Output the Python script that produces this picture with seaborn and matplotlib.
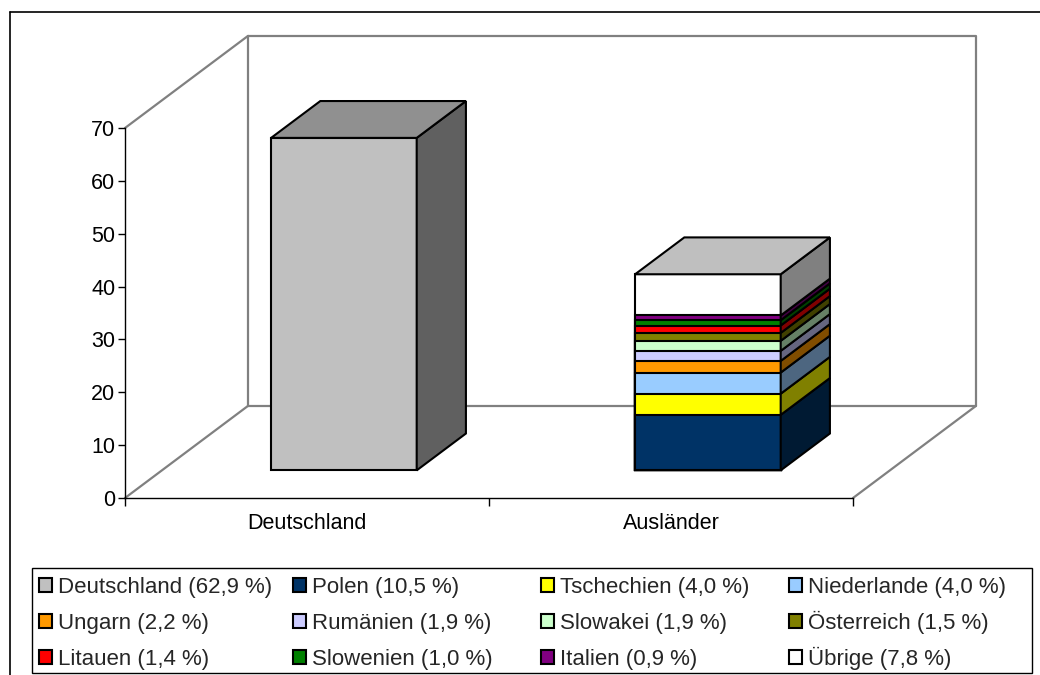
import seaborn as sns
import pandas as pd
import matplotlib.pyplot as plt
from matplotlib.patches import Polygon, Patch, Rectangle
from matplotlib.lines import Line2D
from matplotlib.transforms import Affine2D

# data
bars = ['Deutschland', 'Ausländer']
groups = ['Deutschland', 'Polen', 'Tschechien', 'Niederlande', 'Ungarn', 'Rumänien',
          'Slowakei', 'Österreich', 'Litauen', 'Slowenien', 'Italien', 'Übrige']
group_bar = ['Deutschland'] + ['Ausländer'] * 11
shares = [62.9, 10.5, 4.0, 4.0, 2.2, 1.9, 1.9, 1.5, 1.4, 1.0, 0.9, 7.8]
colors = ['#C0C0C0', '#003366', '#FFFF00', '#99CCFF', '#FF9900', '#CCCCFF',
          '#CCFFCC', '#808000', '#FF0000', '#008000', '#800080', '#FFFFFF']

df = pd.DataFrame({'Gruppe': groups, 'Balken': group_bar, 'Anteil': shares, 'Farbe': colors})
df['oben'] = df.groupby('Balken')['Anteil'].cumsum()
df['unten'] = df['oben'] - df['Anteil']
df['legende'] = [f"{g} ({str(v).replace('.', ',')} %)" for g, v in zip(groups, shares)]

sns.set_style("white")
plt.rcParams['font.family'] = ['Liberation Sans', 'DejaVu Sans']
FS = 15.5

fig = plt.figure(figsize=(10.4, 6.75), dpi=100)
ax = fig.add_axes([125 / 1040, 177 / 675, 728 / 1040, 370 / 675])

# depth of the 3d box, as a share of the axes width / height
depth_x = 0.169 * 2
depth_y = 0.249 * 70
fx, fy = 0.3 * depth_x, 0.3 * depth_y
bx, by = 0.7 * depth_x, 0.7 * depth_y
shift = Affine2D().translate(fx, fy) + ax.transData

# walls and floor (grey lines)
wall = '#808080'
def gline(xs, ys):
    ax.add_line(Line2D(xs, ys, color=wall, lw=1.6, clip_on=False, zorder=0))
gline([-0.5, -0.5 + depth_x], [70, 70 + depth_y])
gline([-0.5, -0.5 + depth_x], [0, depth_y])
gline([1.5, 1.5 + depth_x], [0, depth_y])
gline([-0.5 + depth_x, 1.5 + depth_x, 1.5 + depth_x, -0.5 + depth_x, -0.5 + depth_x],
      [depth_y, depth_y, 70 + depth_y, 70 + depth_y, depth_y])

# front faces: cumulative bars, tallest first
for _, row in df.iloc[::-1].iterrows():
    sub = pd.DataFrame({'Balken': [row['Balken']], 'oben': [row['oben']]})
    sns.barplot(data=sub, x='Balken', y='oben', order=bars, color=row['Farbe'],
                saturation=1, width=0.4, edgecolor='black', linewidth=1.5, ax=ax)
for p in ax.patches:
    p.set_transform(shift)
    p.set_clip_on(False)
    p.set_zorder(2)

def shade(c, k):
    r, g, b = [int(c[i:i + 2], 16) / 255 for i in (1, 3, 5)]
    return (r * k, g * k, b * k)

# side and top faces
for _, row in df.iterrows():
    xc = bars.index(row['Balken'])
    x0, x1 = xc - 0.2, xc + 0.2
    y0, y1 = row['unten'], row['oben']
    side = [(x1 + fx, y0 + fy), (x1 + bx, y0 + by), (x1 + bx, y1 + by), (x1 + fx, y1 + fy)]
    ax.add_patch(Polygon(side, closed=True, facecolor=shade(row['Farbe'], 0.5),
                         edgecolor='black', lw=1.5, clip_on=False, zorder=2))
    last = df[df['Balken'] == row['Balken']]['oben'].max()
    if y1 == last:
        top = [(x0 + fx, y1 + fy), (x1 + fx, y1 + fy), (x1 + bx, y1 + by), (x0 + bx, y1 + by)]
        ax.add_patch(Polygon(top, closed=True, facecolor=shade(row['Farbe'], 0.75),
                             edgecolor='black', lw=1.5, clip_on=False, zorder=2))

ax.set_xlim(-0.5, 1.5)
ax.set_ylim(0, 70)
ax.set_yticks(range(0, 71, 10))
ax.set_xticks([0, 1])
ax.set_xticks([-0.5, 0.5, 1.5], minor=True)
ax.set_xlabel('')
ax.set_ylabel('')
ax.tick_params(axis='y', left=True, direction='out', length=5, width=1, color='black',
               pad=2, labelsize=FS, labelcolor='black')
ax.tick_params(axis='x', which='major', bottom=True, length=0, pad=11, labelsize=FS, labelcolor='black')
ax.tick_params(axis='x', which='minor', bottom=True, direction='out', length=6, width=1, color='black')
ax.set_facecolor('none')
for s in ['top', 'right']:
    ax.spines[s].set_visible(False)
for s in ['left', 'bottom']:
    ax.spines[s].set_color('black')
    ax.spines[s].set_linewidth(1)
    ax.spines[s].set_zorder(3)

# outer frame (top and left edge only)
fig.add_artist(Line2D([10 / 1040, 1], [1 - 12 / 675, 1 - 12 / 675], transform=fig.transFigure, color='black', lw=1.2))
fig.add_artist(Line2D([10 / 1040, 10 / 1040], [0, 1 - 12 / 675], transform=fig.transFigure, color='black', lw=1.2))

# legend box
fig.add_artist(Rectangle((32 / 1040, 2 / 675), 1000 / 1040, 105 / 675, transform=fig.transFigure,
                         fill=False, edgecolor='black', lw=1))
col_x = [39, 293, 541, 789]
row_bottom = [598, 634, 670]
for i, row in df.iterrows():
    c, r = i % 4, i // 4
    h = [Patch(facecolor=row['Farbe'], edgecolor='black', lw=1.5)]
    fig.legend(h, [row['legende']], loc='lower left',
               bbox_to_anchor=(col_x[c] / 1040, 1 - row_bottom[r] / 675), frameon=False,
               borderpad=0, borderaxespad=0, handlelength=0.58, handleheight=0.58,
               handletextpad=0.28, fontsize=16)

plt.savefig('out.png', dpi=100)
